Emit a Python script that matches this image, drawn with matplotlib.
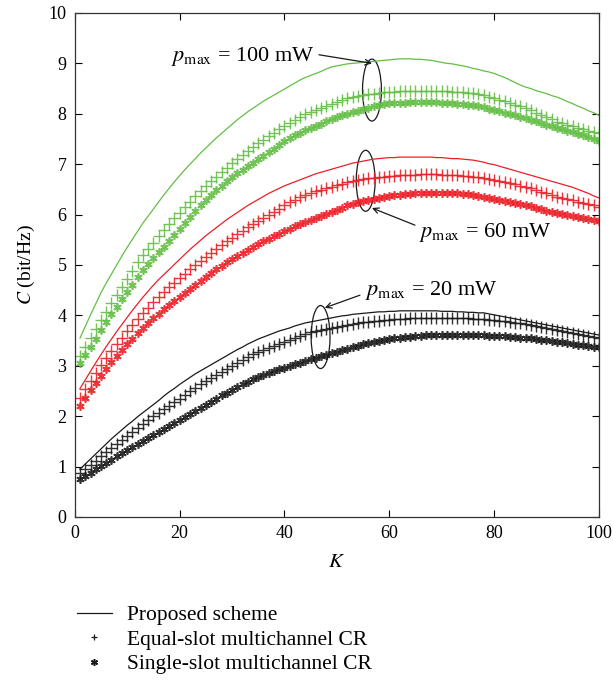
import matplotlib
matplotlib.use("Agg")
import matplotlib.pyplot as plt
from matplotlib.lines import Line2D
from matplotlib.patches import Ellipse
import numpy as np

plt.rcParams['font.family'] = ['Liberation Serif', 'DejaVu Serif']
plt.rcParams['mathtext.fontset'] = 'stix'

# number of users K
K = np.arange(1, 101)

# p_max = 100 mW
green_proposed = [3.55, 3.78, 4.01, 4.23, 4.45, 4.64, 4.82, 5.00, 5.18, 5.35,
                  5.51, 5.67, 5.83, 5.97, 6.11, 6.25, 6.39, 6.52, 6.65, 6.77,
                  6.89, 7.00, 7.11, 7.22, 7.32, 7.42, 7.52, 7.61, 7.70, 7.79,
                  7.88, 7.96, 8.04, 8.11, 8.18, 8.25, 8.31, 8.37, 8.43, 8.49,
                  8.55, 8.61, 8.67, 8.72, 8.76, 8.80, 8.84, 8.89, 8.93, 8.95,
                  8.97, 8.99, 9.00, 9.01, 9.02, 9.03, 9.04, 9.05, 9.06, 9.07,
                  9.08, 9.09, 9.09, 9.09, 9.08, 9.08, 9.07, 9.06, 9.04, 9.02,
                  9.00, 8.99, 8.97, 8.95, 8.93, 8.90, 8.88, 8.85, 8.83, 8.80,
                  8.76, 8.72, 8.67, 8.62, 8.57, 8.53, 8.50, 8.46, 8.43, 8.40,
                  8.36, 8.33, 8.29, 8.24, 8.20, 8.15, 8.11, 8.06, 8.02, 7.97]
green_equal = [3.20, 3.38, 3.55, 3.73, 3.90, 4.07, 4.24, 4.40, 4.57, 4.73,
               4.89, 5.05, 5.20, 5.32, 5.44, 5.57, 5.69, 5.81, 5.93, 6.04,
               6.15, 6.25, 6.36, 6.46, 6.56, 6.66, 6.75, 6.84, 6.93, 7.02,
               7.10, 7.18, 7.26, 7.34, 7.41, 7.48, 7.55, 7.62, 7.69, 7.76,
               7.82, 7.88, 7.94, 7.99, 8.04, 8.08, 8.12, 8.16, 8.20, 8.24,
               8.27, 8.31, 8.33, 8.35, 8.37, 8.39, 8.40, 8.42, 8.43, 8.44,
               8.44, 8.45, 8.45, 8.46, 8.46, 8.46, 8.46, 8.46, 8.46, 8.45,
               8.45, 8.44, 8.44, 8.43, 8.42, 8.41, 8.39, 8.37, 8.34, 8.31,
               8.28, 8.25, 8.22, 8.18, 8.15, 8.11, 8.07, 8.02, 7.98, 7.93,
               7.89, 7.84, 7.81, 7.78, 7.75, 7.72, 7.69, 7.66, 7.64, 7.61]
green_single = [3.05, 3.21, 3.37, 3.54, 3.71, 3.87, 4.02, 4.17, 4.32, 4.46,
                4.61, 4.76, 4.90, 5.02, 5.13, 5.25, 5.36, 5.48, 5.60, 5.72,
                5.84, 5.95, 6.07, 6.18, 6.29, 6.39, 6.48, 6.57, 6.66, 6.74,
                6.82, 6.89, 6.96, 7.03, 7.10, 7.17, 7.24, 7.31, 7.38, 7.45,
                7.51, 7.57, 7.62, 7.67, 7.72, 7.76, 7.80, 7.85, 7.89, 7.93,
                7.97, 8.00, 8.03, 8.06, 8.09, 8.12, 8.15, 8.18, 8.20, 8.21,
                8.21, 8.22, 8.22, 8.23, 8.23, 8.23, 8.23, 8.23, 8.23, 8.22,
                8.22, 8.21, 8.20, 8.19, 8.18, 8.17, 8.15, 8.13, 8.10, 8.08,
                8.05, 8.02, 8.00, 7.97, 7.94, 7.91, 7.88, 7.85, 7.81, 7.78,
                7.75, 7.72, 7.69, 7.66, 7.63, 7.60, 7.57, 7.54, 7.50, 7.46]

# p_max = 60 mW
red_proposed = [2.55, 2.72, 2.89, 3.06, 3.22, 3.38, 3.53, 3.68, 3.82, 3.96,
                4.10, 4.23, 4.36, 4.48, 4.60, 4.71, 4.81, 4.91, 5.01, 5.11,
                5.21, 5.31, 5.40, 5.49, 5.58, 5.66, 5.74, 5.82, 5.90, 5.97,
                6.04, 6.11, 6.18, 6.24, 6.30, 6.36, 6.42, 6.47, 6.52, 6.57,
                6.61, 6.65, 6.69, 6.73, 6.77, 6.81, 6.84, 6.87, 6.90, 6.93,
                6.96, 6.99, 7.02, 7.04, 7.06, 7.08, 7.10, 7.11, 7.12, 7.13,
                7.13, 7.14, 7.14, 7.14, 7.14, 7.14, 7.14, 7.14, 7.13, 7.13,
                7.12, 7.11, 7.11, 7.10, 7.09, 7.08, 7.06, 7.04, 7.01, 6.99,
                6.96, 6.93, 6.90, 6.87, 6.84, 6.81, 6.78, 6.75, 6.72, 6.69,
                6.66, 6.63, 6.60, 6.57, 6.54, 6.50, 6.46, 6.42, 6.37, 6.33]
red_equal = [2.36, 2.53, 2.70, 2.86, 3.02, 3.16, 3.30, 3.43, 3.56, 3.69,
             3.81, 3.93, 4.04, 4.15, 4.26, 4.36, 4.46, 4.56, 4.65, 4.74,
             4.83, 4.92, 5.00, 5.08, 5.16, 5.24, 5.32, 5.40, 5.47, 5.54,
             5.61, 5.68, 5.75, 5.82, 5.88, 5.94, 6.00, 6.06, 6.12, 6.18,
             6.24, 6.29, 6.34, 6.38, 6.42, 6.46, 6.49, 6.52, 6.55, 6.58,
             6.61, 6.64, 6.66, 6.68, 6.70, 6.72, 6.73, 6.74, 6.75, 6.76,
             6.77, 6.78, 6.78, 6.79, 6.79, 6.80, 6.80, 6.80, 6.80, 6.79,
             6.79, 6.78, 6.78, 6.77, 6.76, 6.75, 6.74, 6.72, 6.70, 6.68,
             6.66, 6.64, 6.62, 6.60, 6.57, 6.55, 6.52, 6.49, 6.45, 6.42,
             6.38, 6.35, 6.33, 6.30, 6.28, 6.25, 6.23, 6.20, 6.18, 6.15]
red_single = [2.20, 2.36, 2.51, 2.66, 2.80, 2.94, 3.07, 3.19, 3.31, 3.43,
              3.54, 3.65, 3.75, 3.85, 3.94, 4.03, 4.12, 4.21, 4.29, 4.37,
              4.45, 4.53, 4.61, 4.69, 4.77, 4.84, 4.91, 4.98, 5.05, 5.11,
              5.17, 5.23, 5.29, 5.35, 5.41, 5.47, 5.52, 5.57, 5.62, 5.67,
              5.72, 5.77, 5.82, 5.86, 5.90, 5.94, 5.98, 6.02, 6.06, 6.10,
              6.14, 6.18, 6.21, 6.24, 6.27, 6.29, 6.31, 6.33, 6.35, 6.37,
              6.38, 6.39, 6.40, 6.41, 6.42, 6.43, 6.43, 6.43, 6.43, 6.43,
              6.43, 6.42, 6.42, 6.41, 6.40, 6.39, 6.37, 6.35, 6.33, 6.31,
              6.29, 6.27, 6.25, 6.23, 6.21, 6.19, 6.16, 6.14, 6.11, 6.08,
              6.06, 6.03, 6.01, 5.99, 5.97, 5.95, 5.93, 5.91, 5.89, 5.87]

# p_max = 20 mW
black_proposed = [0.95, 1.05, 1.15, 1.25, 1.35, 1.45, 1.55, 1.64, 1.73, 1.82,
                  1.90, 1.99, 2.07, 2.15, 2.23, 2.31, 2.40, 2.48, 2.55, 2.63,
                  2.70, 2.77, 2.84, 2.90, 2.96, 3.02, 3.08, 3.14, 3.20, 3.26,
                  3.32, 3.37, 3.43, 3.48, 3.53, 3.57, 3.61, 3.65, 3.69, 3.72,
                  3.75, 3.79, 3.82, 3.85, 3.87, 3.89, 3.91, 3.93, 3.95, 3.97,
                  3.99, 4.00, 4.02, 4.03, 4.04, 4.05, 4.06, 4.07, 4.07, 4.08,
                  4.08, 4.09, 4.09, 4.09, 4.09, 4.09, 4.09, 4.09, 4.09, 4.08,
                  4.08, 4.08, 4.07, 4.07, 4.06, 4.06, 4.05, 4.05, 4.03, 4.01,
                  3.99, 3.97, 3.95, 3.93, 3.91, 3.89, 3.87, 3.85, 3.83, 3.81,
                  3.79, 3.77, 3.75, 3.73, 3.71, 3.69, 3.67, 3.65, 3.63, 3.61]
black_equal = [0.87, 0.95, 1.04, 1.12, 1.20, 1.29, 1.37, 1.45, 1.53, 1.61,
               1.69, 1.77, 1.85, 1.93, 2.00, 2.07, 2.14, 2.21, 2.28, 2.35,
               2.42, 2.49, 2.56, 2.63, 2.70, 2.76, 2.82, 2.88, 2.94, 3.00,
               3.06, 3.12, 3.18, 3.23, 3.28, 3.32, 3.36, 3.40, 3.44, 3.48,
               3.52, 3.56, 3.60, 3.64, 3.66, 3.68, 3.70, 3.72, 3.74, 3.76,
               3.78, 3.80, 3.82, 3.84, 3.86, 3.87, 3.88, 3.89, 3.90, 3.91,
               3.92, 3.93, 3.93, 3.94, 3.94, 3.95, 3.95, 3.95, 3.95, 3.95,
               3.95, 3.95, 3.94, 3.94, 3.94, 3.93, 3.93, 3.92, 3.91, 3.90,
               3.89, 3.88, 3.87, 3.85, 3.84, 3.83, 3.81, 3.79, 3.77, 3.75,
               3.73, 3.71, 3.69, 3.67, 3.65, 3.63, 3.61, 3.59, 3.57, 3.55]
black_single = [0.76, 0.82, 0.88, 0.95, 1.01, 1.08, 1.14, 1.21, 1.27, 1.33,
                1.39, 1.45, 1.51, 1.57, 1.63, 1.69, 1.75, 1.81, 1.87, 1.93,
                1.99, 2.05, 2.11, 2.17, 2.23, 2.29, 2.35, 2.41, 2.46, 2.52,
                2.57, 2.63, 2.68, 2.73, 2.78, 2.82, 2.86, 2.90, 2.93, 2.96,
                2.99, 3.03, 3.06, 3.10, 3.13, 3.16, 3.19, 3.22, 3.25, 3.28,
                3.31, 3.34, 3.37, 3.40, 3.43, 3.45, 3.47, 3.49, 3.51, 3.53,
                3.55, 3.56, 3.57, 3.58, 3.59, 3.60, 3.61, 3.61, 3.62, 3.62,
                3.62, 3.62, 3.62, 3.62, 3.62, 3.61, 3.61, 3.61, 3.60, 3.60,
                3.59, 3.59, 3.58, 3.57, 3.56, 3.56, 3.55, 3.54, 3.52, 3.51,
                3.50, 3.48, 3.47, 3.45, 3.44, 3.42, 3.41, 3.40, 3.38, 3.37]

legend_labels = ["Proposed scheme", "Equal-slot multichannel CR",
                 "Single-slot multichannel CR"]

GREEN = '#63be45'
RED = '#ec1f27'
BLACK = '#1a1a1a'
STAR = (6, 2, 0)   # asterisk marker

fig = plt.figure(figsize=(6.13, 6.82), dpi=100)
ax = fig.add_axes([0.122, 0.242, 0.855, 0.739])

groups = [
    (green_proposed, green_equal, green_single, GREEN),
    (red_proposed, red_equal, red_single, RED),
    (black_proposed, black_equal, black_single, BLACK),
]
for prop, eq, single, c in groups:
    ax.plot(K, prop, '-', color=c, lw=0.9)
    ax.plot(K, eq, ls='none', color=c, marker='+', ms=8, mew=1.0, alpha=0.9)
    ax.plot(K, single, ls='none', color=c, marker=STAR, ms=6, mew=1.2, alpha=0.9)

ax.set_xlim(0, 100)
ax.set_ylim(0, 10)
ax.set_xticks(range(0, 101, 20))
ax.set_yticks(range(0, 11))
ax.tick_params(direction='in', top=True, right=True, labelsize=13, length=5,
               width=0.8, pad=6)
for s in ax.spines.values():
    s.set_linewidth(0.9)
    s.set_color('#333333')
ax.set_xlabel('$K$', fontsize=15, labelpad=8)
ax.set_ylabel('$C$ (bit/Hz)', fontsize=14, labelpad=8)

# ellipses grouping the curves of each power level
for cx, cy, h in [(56.7, 8.47, 1.23), (55.5, 6.67, 1.21), (46.9, 3.57, 1.25)]:
    ax.add_patch(Ellipse((cx, cy), 3.6, h, fill=False, ec=BLACK, lw=0.9))

arrow = dict(arrowstyle='->', color=BLACK, lw=0.9, shrinkA=0, shrinkB=0)
ax.annotate('', xy=(56.7, 9.0), xytext=(46.6, 9.17), arrowprops=arrow)
ax.text(18.4, 9.13, r'$p_{\max}$ = 100 mW', fontsize=16, va='center')
ax.annotate('', xy=(56.7, 6.13), xytext=(64.9, 5.79), arrowprops=arrow)
ax.text(65.6, 5.65, r'$p_{\max}$ = 60 mW', fontsize=16, va='center')
ax.annotate('', xy=(47.7, 4.15), xytext=(54.4, 4.40), arrowprops=arrow)
ax.text(55.3, 4.5, r'$p_{\max}$ = 20 mW', fontsize=16, va='center')

handles = [Line2D([], [], color=BLACK, lw=0.9),
           Line2D([], [], color=BLACK, ls='none', marker='+', ms=5, mew=0.9),
           Line2D([], [], color=BLACK, ls='none', marker=STAR, ms=5, mew=1.1)]
fig.legend(handles, legend_labels, loc='upper left', bbox_to_anchor=(0.112, 0.125),
           frameon=False, fontsize=15.5, handlelength=1.6, handletextpad=0.7,
           labelspacing=0.2, borderaxespad=0)

fig.savefig('out.png', dpi=100)
